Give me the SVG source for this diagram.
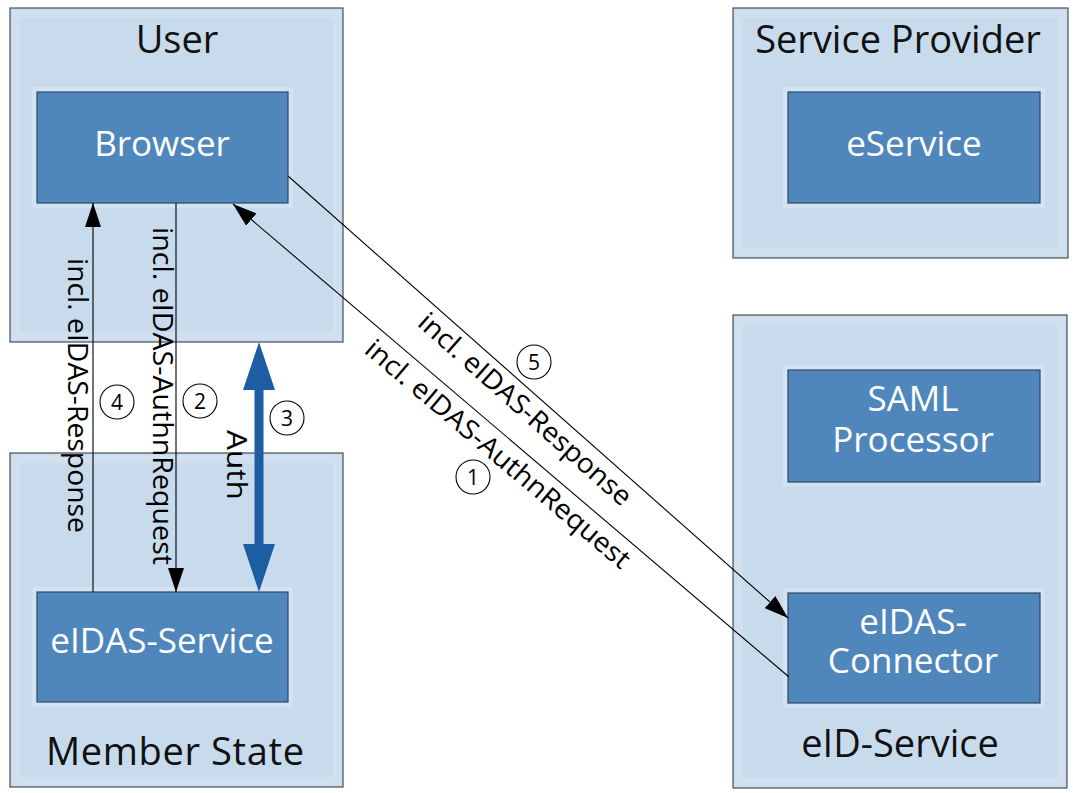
<svg xmlns="http://www.w3.org/2000/svg" width="1073" height="793" viewBox="0 0 1073 793">
  <style>
    .outer { fill: #c8dbec; stroke: #4a4f55; stroke-width: 1.2; }
    .halo { fill: none; stroke: #d0e0ee; stroke-width: 8; }
    .glow { fill: #d3e2f0; }
    .inner { fill: #4f87bd; stroke: #2e4a66; stroke-width: 1.2; }
    .title { font-family: "Open Sans", "Noto Sans", sans-serif; font-size: 38px; fill: #111; text-anchor: middle; }
    .ntext { font-family: "Open Sans", "Noto Sans", sans-serif; font-size: 35px; fill: #ffffff; text-anchor: middle; }
    .lbl { font-family: "Open Sans", "Noto Sans", sans-serif; font-size: 27px; fill: #000; text-anchor: middle; }
    .num { font-family: "Open Sans", "Noto Sans", sans-serif; font-size: 21px; fill: #000; text-anchor: middle; }
    .circ { fill: none; stroke: #000; stroke-width: 1.1; }
    .conn { stroke: #000; stroke-width: 1.1; fill: none; }
  </style>
  <defs>
    <marker id="arr" viewBox="0 0 24 16" refX="24" refY="8" markerWidth="24" markerHeight="16" markerUnits="userSpaceOnUse" orient="auto">
      <path d="M0,0 L24,8 L0,16 z" fill="#000"/>
    </marker>
  </defs>
  <rect x="0" y="0" width="1073" height="793" fill="#ffffff"/>

  <g id="user">
    <rect class="outer" x="10" y="8" width="333" height="334"/>
    <rect class="halo" x="16" y="14" width="321" height="322"/>
    <text class="title" x="177" y="53">User</text>
  </g>
  <g id="browser">
    <rect class="glow" x="32" y="87" width="261" height="121"/>
    <rect class="inner" x="37" y="92" width="251" height="111"/>
    <text class="ntext" x="162" y="156">Browser</text>
  </g>

  <g id="member-state">
    <rect class="outer" x="10" y="453" width="333" height="334"/>
    <rect class="halo" x="16" y="459" width="321" height="322"/>
    <text class="title" x="175" y="765" textLength="258">Member State</text>
  </g>
  <g id="eidas-service">
    <rect class="glow" x="32" y="587" width="261" height="120"/>
    <rect class="inner" x="37" y="592" width="251" height="110"/>
    <text class="ntext" x="162" y="653">eIDAS-Service</text>
  </g>

  <g id="service-provider">
    <rect class="outer" x="733" y="8" width="335" height="250"/>
    <rect class="halo" x="739" y="14" width="323" height="238"/>
    <text class="title" x="898" y="53">Service Provider</text>
  </g>
  <g id="eservice">
    <rect class="glow" x="783" y="87" width="262" height="121"/>
    <rect class="inner" x="788" y="92" width="252" height="111"/>
    <text class="ntext" x="914" y="156">eService</text>
  </g>

  <g id="eid-service">
    <rect class="outer" x="733" y="315" width="334" height="473"/>
    <rect class="halo" x="739" y="321" width="322" height="461"/>
    <text class="title" x="900" y="757">eID-Service</text>
  </g>
  <g id="saml-processor">
    <rect class="glow" x="783" y="365" width="262" height="122"/>
    <rect class="inner" x="788" y="370" width="252" height="112"/>
    <text class="ntext" x="913" y="411">SAML</text>
    <text class="ntext" x="913" y="452">Processor</text>
  </g>
  <g id="eidas-connector">
    <rect class="glow" x="783" y="588" width="262" height="120"/>
    <rect class="inner" x="788" y="593" width="252" height="110"/>
    <text class="ntext" x="913" y="634">eIDAS-</text>
    <text class="ntext" x="913" y="673">Connector</text>
  </g>

  <g id="connectors">
    <line class="conn" x1="93" y1="592" x2="93" y2="203" marker-end="url(#arr)"/>
    <line class="conn" x1="176" y1="203" x2="176" y2="592" marker-end="url(#arr)"/>
    <line class="conn" x1="789" y1="677" x2="233" y2="204" marker-end="url(#arr)"/>
    <line class="conn" x1="288" y1="176" x2="788" y2="618" marker-end="url(#arr)"/>
    <polygon fill="#1d5ea3" points="259,342 275,390 263.5,390 263.5,544 275,544 259,592 243,544 254.5,544 254.5,390 243,390"/>

    <text class="lbl" transform="translate(68,395.5) rotate(90)" textLength="275" lengthAdjust="spacingAndGlyphs">incl. eIDAS-Response</text>
    <text class="lbl" transform="translate(152.5,396) rotate(90)" textLength="338" lengthAdjust="spacingAndGlyphs">incl. eIDAS-AuthnRequest</text>
    <text class="lbl" transform="translate(227,465) rotate(90)" textLength="70" lengthAdjust="spacingAndGlyphs">Auth</text>
    <text class="lbl" transform="translate(519,416) rotate(41.6)" textLength="275" lengthAdjust="spacingAndGlyphs">incl. eIDAS-Response</text>
    <text class="lbl" transform="translate(492,461) rotate(40.2)" textLength="338" lengthAdjust="spacingAndGlyphs">incl. eIDAS-AuthnRequest</text>

    <circle class="circ" cx="117" cy="402" r="17"/>
    <text class="num" x="117" y="409.5">4</text>
    <circle class="circ" cx="200" cy="401" r="17"/>
    <text class="num" x="200" y="408.5">2</text>
    <circle class="circ" cx="287" cy="418" r="17"/>
    <text class="num" x="287" y="425.5">3</text>
    <circle class="circ" cx="534" cy="362" r="17"/>
    <text class="num" x="534" y="369.5">5</text>
    <circle class="circ" cx="473" cy="477" r="17"/>
    <text class="num" x="473" y="484.5">1</text>
  </g>
</svg>
